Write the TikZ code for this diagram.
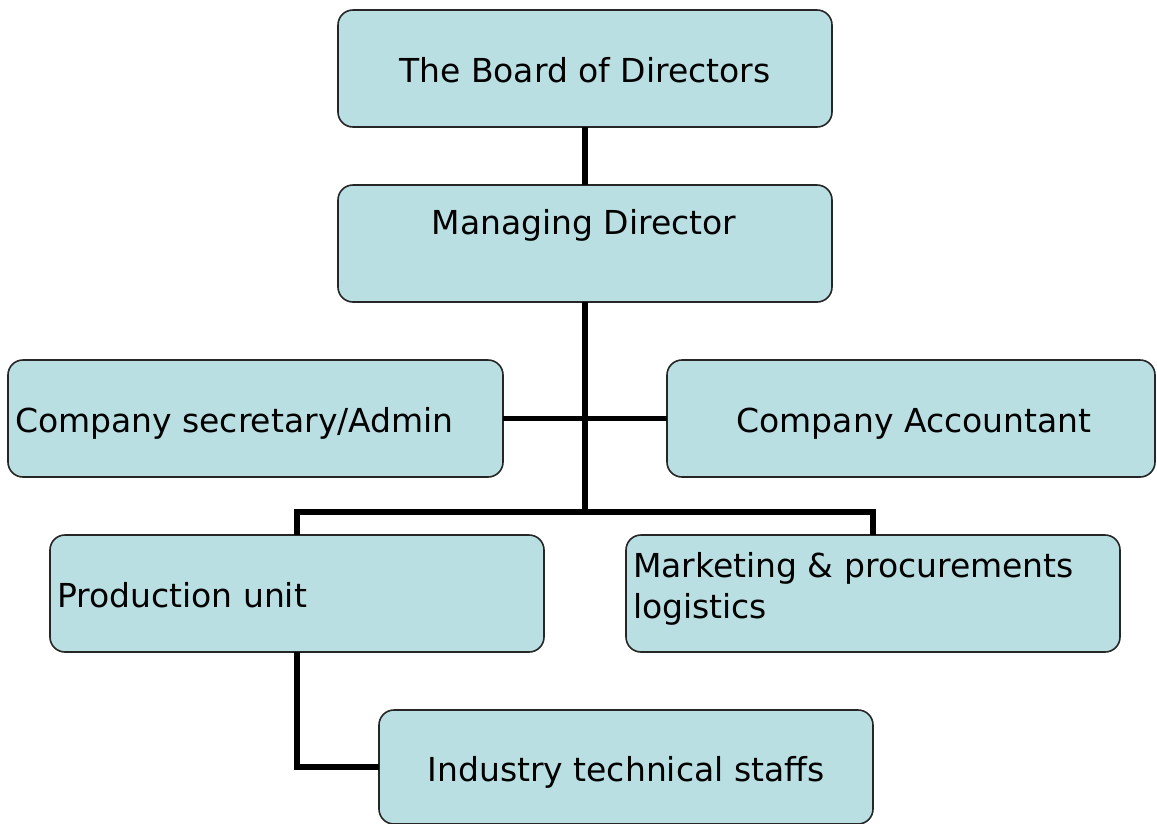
\documentclass[tikz,border=0pt]{standalone}
\usepackage{fontspec}
\setmainfont{DejaVu Sans}
\definecolor{boxfill}{HTML}{BADFE3}
\begin{document}
\begin{tikzpicture}[x=1pt,y=-1pt,
  box/.style={draw=black!85, line width=1.6pt, fill=boxfill, rounded corners=15pt,
    minimum width=494pt, minimum height=117pt, inner sep=0pt, outer sep=0pt},
  txt/.style={inner sep=0pt, outer sep=0pt, font=\fontsize{33}{41}\selectfont},
  conn/.style={line width=5.5pt, line join=miter}]
\useasboundingbox (0,0) rectangle (1157,823);
% boxes
\node[box] (bod) at (585,68.5) {};
\node[box] (md) at (585,243.5) {};
\node[box, minimum width=495pt] (sec) at (255.5,418.5) {};
\node[box, minimum width=488pt] (acc) at (911,418.5) {};
\node[box] (prod) at (297,593.5) {};
\node[box] (mkt) at (873,593.5) {};
\node[box, minimum height=114pt] (ind) at (626,767) {};
% connectors
\coordinate (bar) at (585,512);
\coordinate (barL) at (297,512);
\coordinate (barR) at (873,512);
\draw[conn] (bod.south) -- (md.north);
\draw[conn] (md.south) -- (bar);
\draw[conn] (sec.east) -- (acc.west);
\draw[conn] (prod.north) -- (barL) -- (barR) -- (mkt.north);
\draw[conn] (prod.south) |- (ind.west);
% texts
\node[txt, anchor=base] (tbod) at (585,82) {The Board of Directors};
\node[txt, anchor=base] (tmd) at (584,234) {Managing Director};
\node[txt, anchor=base west] (tsec) at (15,432) {Company secretary/Admin};
\node[txt, anchor=base] (tacc) at (914,432) {Company Accountant};
\node[txt, anchor=base west] (tprod) at (57,607) {Production unit};
\node[txt, anchor=base west, align=left] (tmkt) at (633,618) {Marketing \& procurements\\logistics};
\node[txt, anchor=base] (tind) at (626,781) {Industry technical staffs};
\end{tikzpicture}
\end{document}
